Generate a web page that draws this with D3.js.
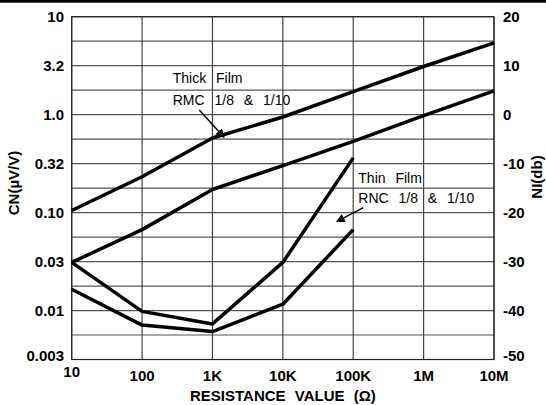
<!DOCTYPE html>
<html>
<head>
<meta charset="utf-8">
<script src="https://cdn.jsdelivr.net/npm/d3@7"></script>
<style>
  html, body { margin: 0; padding: 0; background: #fff; }
  svg { display: block; }
  text { font-family: "Liberation Sans", Arial, sans-serif; fill: #000; }
</style>
</head>
<body>
<svg id="chart" width="546" height="405"></svg>
<script>
// ---- data ----
const resistance = [10, 100, 1e3, 1e4, 1e5, 1e6, 1e7];
const xTickLabels = ["10", "100", "1K", "10K", "100K", "1M", "10M"];
const thickUpper = [0.105, 0.232, 0.578, 0.946, 1.72, 3.10, 5.40];
const thickLower = [0.031, 0.067, 0.172, 0.302, 0.534, 0.975, 1.75];
const thinResistance = [10, 100, 1e3, 1e4, 1e5];
const thinUpper = [0.031, 0.0098, 0.0073, 0.031, 0.362];
const thinLower = [0.0165, 0.0071, 0.0061, 0.0116, 0.067];
const cnTickValues = [10, 3.162, 1.0, 0.3162, 0.1, 0.03162, 0.01, 0.003162];
const cnTickLabels = ["10", "3.2", "1.0", "0.32", "0.10", "0.03", "0.01", "0.003"];
const niTicks = [20, 10, 0, -10, -20, -30, -40, -50];
const gridDb = d3.range(-50, 20.01, 5);

// ---- layout ----
const svg = d3.select("#chart");
const L = 71.7, R = 494, T = 16.7, B = 359.5;
const x = d3.scaleLog().domain([10, 1e7]).range([L, R]);
const y = d3.scaleLog().domain([Math.pow(10, -2.5), 10]).range([B, T]);
const yDb = d3.scaleLinear().domain([-50, 20]).range([B, T]);
const FS = 15;

// top bar
svg.append("rect").attr("x", 0).attr("y", 0).attr("width", 546).attr("height", 2.7).attr("fill", "#000");

// grid
const g = svg.append("g");
g.selectAll("line.h").data(gridDb).enter().append("line")
  .attr("x1", L).attr("x2", R)
  .attr("y1", d => yDb(d)).attr("y2", d => yDb(d))
  .attr("stroke", "#555").attr("stroke-width", 1.2);
g.selectAll("line.v").data(resistance).enter().append("line")
  .attr("y1", T).attr("y2", B)
  .attr("x1", d => x(d)).attr("x2", d => x(d))
  .attr("stroke", "#444").attr("stroke-width", 1.2);
svg.append("rect").attr("x", L).attr("y", T).attr("width", R - L).attr("height", B - T)
  .attr("fill", "none").attr("stroke", "#222").attr("stroke-width", 1.2);

// curves
const line = d3.line().x(d => x(d[0])).y(d => y(d[1]));
const series = [
  d3.zip(resistance, thickUpper),
  d3.zip(resistance, thickLower),
  d3.zip(thinResistance, thinUpper),
  d3.zip(thinResistance, thinLower)
];
svg.selectAll("path.curve").data(series).enter().append("path")
  .attr("d", line).attr("fill", "none").attr("stroke", "#000")
  .attr("stroke-width", 3.5).attr("stroke-linejoin", "round");

// left axis labels
svg.selectAll("text.cn").data(cnTickValues).enter().append("text")
  .attr("x", 64).attr("y", (d, i) => y(d) + 5.5 - (i === cnTickValues.length - 1 ? 4 : 0))
  .attr("text-anchor", "end").attr("font-weight", "bold").attr("font-size", FS)
  .text((d, i) => cnTickLabels[i]);

// right axis labels
svg.selectAll("text.ni").data(niTicks).enter().append("text")
  .attr("x", 503).attr("y", (d, i) => yDb(d) + 5.5 - (i === niTicks.length - 1 ? 4 : 0))
  .attr("text-anchor", "start").attr("font-weight", "bold").attr("font-size", FS)
  .text(d => d);

// bottom axis labels
svg.selectAll("text.xl").data(resistance).enter().append("text")
  .attr("x", d => x(d)).attr("y", (d, i) => i === 0 ? 376.7 : 380.7)
  .attr("text-anchor", "middle").attr("font-weight", "bold").attr("font-size", FS)
  .text((d, i) => xTickLabels[i]);

// axis titles
svg.append("text").attr("x", (L + R) / 2).attr("y", 401)
  .attr("text-anchor", "middle").attr("font-weight", "bold").attr("font-size", FS)
  .attr("word-spacing", 5)
  .text("RESISTANCE VALUE (Ω)");
svg.append("text").attr("transform", "translate(19,183) rotate(-90)")
  .attr("text-anchor", "middle").attr("font-weight", "bold").attr("font-size", FS)
  .text("CN(µV/V)");
svg.append("text").attr("transform", "translate(541.5,177) rotate(-90)")
  .attr("text-anchor", "middle").attr("font-weight", "bold").attr("font-size", FS)
  .text("NI(db)");

// annotations
const defs = svg.append("defs");
defs.append("marker").attr("id", "ah").attr("viewBox", "0 0 10 10")
  .attr("refX", 9).attr("refY", 5).attr("markerWidth", 9).attr("markerHeight", 9)
  .attr("markerUnits", "userSpaceOnUse").attr("orient", "auto")
  .append("path").attr("d", "M0,0 L10,5 L0,10 z").attr("fill", "#000");

function annot(lines, x0, ys, arrow) {
  lines.forEach((t, i) => {
    svg.append("text").attr("x", x0).attr("y", ys[i]).attr("font-size", 14)
      .attr("word-spacing", 6).text(t);
  });
  svg.append("line").attr("x1", arrow[0]).attr("y1", arrow[1]).attr("x2", arrow[2]).attr("y2", arrow[3])
    .attr("stroke", "#000").attr("stroke-width", 1.4).attr("marker-end", "url(#ah)");
}
annot(["Thick Film", "RMC 1/8 & 1/10"], 172.7, [83.3, 105], [199.3, 110, 224, 137.3]);
annot(["Thin Film", "RNC 1/8 & 1/10"], 358.3, [183.3, 203.3], [363.3, 207.7, 336.7, 221.7]);
</script>
</body>
</html>
